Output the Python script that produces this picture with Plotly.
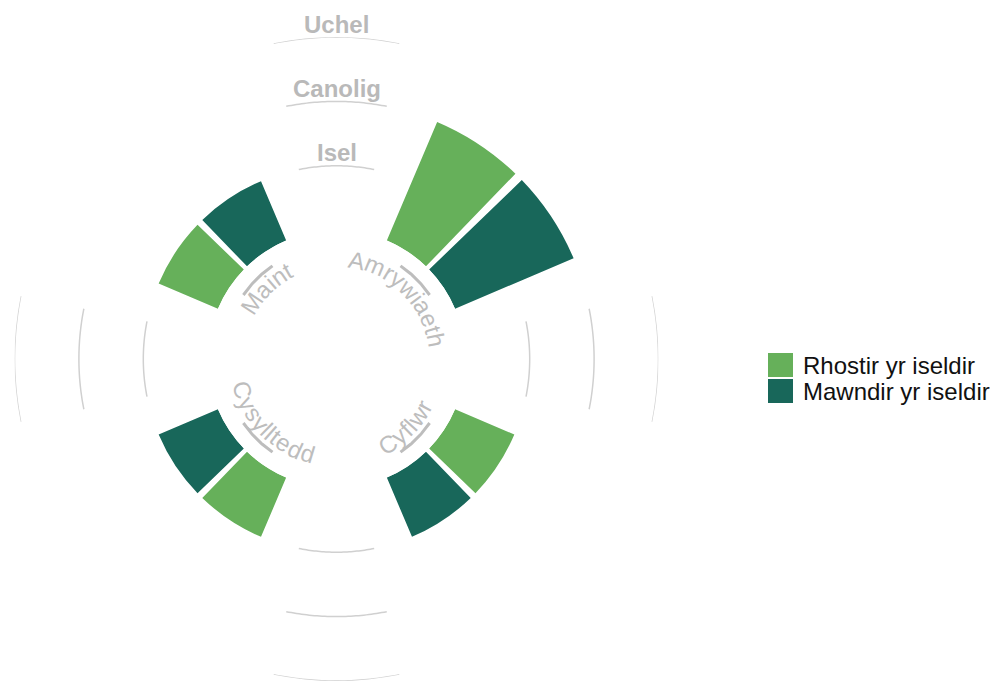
import numpy as np
import plotly.graph_objects as go

# data
categories = ["Amrywiaeth", "Cyflwr", "Cysylltedd", "Maint"]
series_names = ["Rhostir yr iseldir", "Mawndir yr iseldir"]
rhostir = [2, 1, 1, 1]
mawndir = [2, 1, 1, 1]
levels = [1, 2, 3]
level_labels = ["Isel", "Canolig", "Uchel"]

LIGHT = "#66b05a"
DARK = "#18675a"
GREY = "#bdbdbd"
GRID = "#d0d0d0"
FONT = "Liberation Sans, Arial, sans-serif"

# the page body has an 8px margin, so the figure is a bit smaller than the window
PAGE_PAD = 8
W, H = 1000 - PAGE_PAD, 681 - PAGE_PAD

# geometry (figure pixels)
R_OUT = 322
CX, CY = 336.5 - PAGE_PAD, 359 - PAGE_PAD
HOLE = 0.4
RMAX = 3
BAR_W = 21
BAR_SHIFT = 11.5
GAP_HALF = 11.25

cat_angle = [45 + 90 * i for i in range(len(categories))]
theta_light = [a - BAR_SHIFT for a in cat_angle]
theta_dark = [a + BAR_SHIFT for a in cat_angle]

dom_x = [(CX - R_OUT) / W, (CX + R_OUT) / W]
dom_y = [max(0, 1 - (CY + R_OUT) / H), 1 - (CY - R_OUT) / H]


def level_px(v):
    return R_OUT * (HOLE + (1 - HOLE) * v / RMAX)


fig = go.Figure()

fig.add_trace(go.Barpolar(r=rhostir, theta=theta_light, width=BAR_W, name=series_names[0],
                          marker=dict(color=LIGHT, line=dict(width=0)), showlegend=False,
                          hoverinfo="skip"))
fig.add_trace(go.Barpolar(r=mawndir, theta=theta_dark, width=BAR_W, name=series_names[1],
                          marker=dict(color=DARK, line=dict(width=0)), showlegend=False,
                          hoverinfo="skip"))

# partial grid arcs in the gaps between categories
for lv in levels:
    th, rr = [], []
    for g in [0, 90, 180, 270]:
        t = np.linspace(g - GAP_HALF, g + GAP_HALF, 40)
        th += list(t) + [None]
        rr += [lv] * len(t) + [None]
    fig.add_trace(go.Scatterpolar(r=rr, theta=th, mode="lines", line=dict(color=GRID, width=1.5),
                                  showlegend=False, hoverinfo="skip"))

# small arcs under the category labels (inside the hole, so on a cartesian overlay in px)
ARC_R = 113
for a in cat_angle:
    t = np.radians(np.linspace(a - 10.5, a + 10.5, 30))
    fig.add_trace(go.Scatter(x=ARC_R * np.sin(t), y=ARC_R * np.cos(t), mode="lines",
                             line=dict(color=GREY, width=3), showlegend=False,
                             hoverinfo="skip", xaxis="x", yaxis="y"))

# curved category labels, one glyph at a time
CHAR_W = {"A": 667, "m": 833, "r": 333, "y": 500, "w": 722, "i": 222, "a": 556, "e": 556,
          "t": 278, "h": 556, "C": 722, "f": 278, "l": 222, "s": 500, "d": 556, "M": 833,
          "n": 556}
LABEL_SIZE = 24
annotations = []
for name, a in zip(categories, cat_angle):
    top = np.cos(np.radians(a)) > 0
    r_pos = 101 if top else 99
    r_step = 94 if top else 99
    widths = [CHAR_W.get(c, 556) * LABEL_SIZE / 1000 for c in name]
    s = -sum(widths) / 2
    for ch, w in zip(name, widths):
        mid = s + w / 2
        s += w
        d = np.degrees(mid / r_step)
        th = a + d if top else a - d
        rot = th if top else th - 180
        rot = (rot + 180) % 360 - 180
        annotations.append(dict(x=r_pos * np.sin(np.radians(th)), y=r_pos * np.cos(np.radians(th)),
                                xref="x", yref="y", text=ch, textangle=rot, showarrow=False,
                                xanchor="center", yanchor="middle",
                                font=dict(family=FONT, size=LABEL_SIZE, color=GREY)))

# level labels at the top
for lv, lab in zip(levels, level_labels):
    annotations.append(dict(x=0, y=level_px(lv) + 13, xref="x", yref="y", text="<b>%s</b>" % lab,
                            showarrow=False, xanchor="center", yanchor="middle",
                            font=dict(family=FONT, size=24, color="#b9b9b9")))

# legend drawn by hand (bigger keys than plotly's own)
shapes = []
LEG_X, LEG_Y, KEY, ROW = 768 - PAGE_PAD, 353 - PAGE_PAD, 25, 26
for i, (nm, col) in enumerate(zip(series_names, [LIGHT, DARK])):
    y0 = LEG_Y + i * ROW
    shapes.append(dict(type="rect", xref="paper", yref="paper", x0=LEG_X / W, x1=(LEG_X + KEY) / W,
                       y0=1 - (y0 + KEY - 1) / H, y1=1 - y0 / H, fillcolor=col, line=dict(width=0)))
    annotations.append(dict(x=(LEG_X + KEY + 8) / W, y=1 - (y0 + 12) / H, xref="paper", yref="paper",
                            text=nm, showarrow=False, xanchor="left", yanchor="middle",
                            font=dict(family=FONT, size=24, color="#111111")))

fig.update_layout(
    width=W, height=H,
    margin=dict(l=0, r=0, t=0, b=0),
    paper_bgcolor="white", plot_bgcolor="rgba(0,0,0,0)",
    showlegend=False,
    polar=dict(domain=dict(x=dom_x, y=dom_y), hole=HOLE, bgcolor="rgba(0,0,0,0)",
               radialaxis=dict(range=[0, RMAX], visible=False, showgrid=False),
               angularaxis=dict(visible=False, showgrid=False, rotation=90, direction="clockwise")),
    # cartesian overlay covering the whole figure, in pixels around the polar centre
    xaxis=dict(domain=[0, 1], range=[-CX, W - CX], visible=False, fixedrange=True),
    yaxis=dict(domain=[0, 1], range=[CY - H, CY], visible=False, fixedrange=True),
    annotations=annotations,
    shapes=shapes,
)

fig.write_html("out.html")
